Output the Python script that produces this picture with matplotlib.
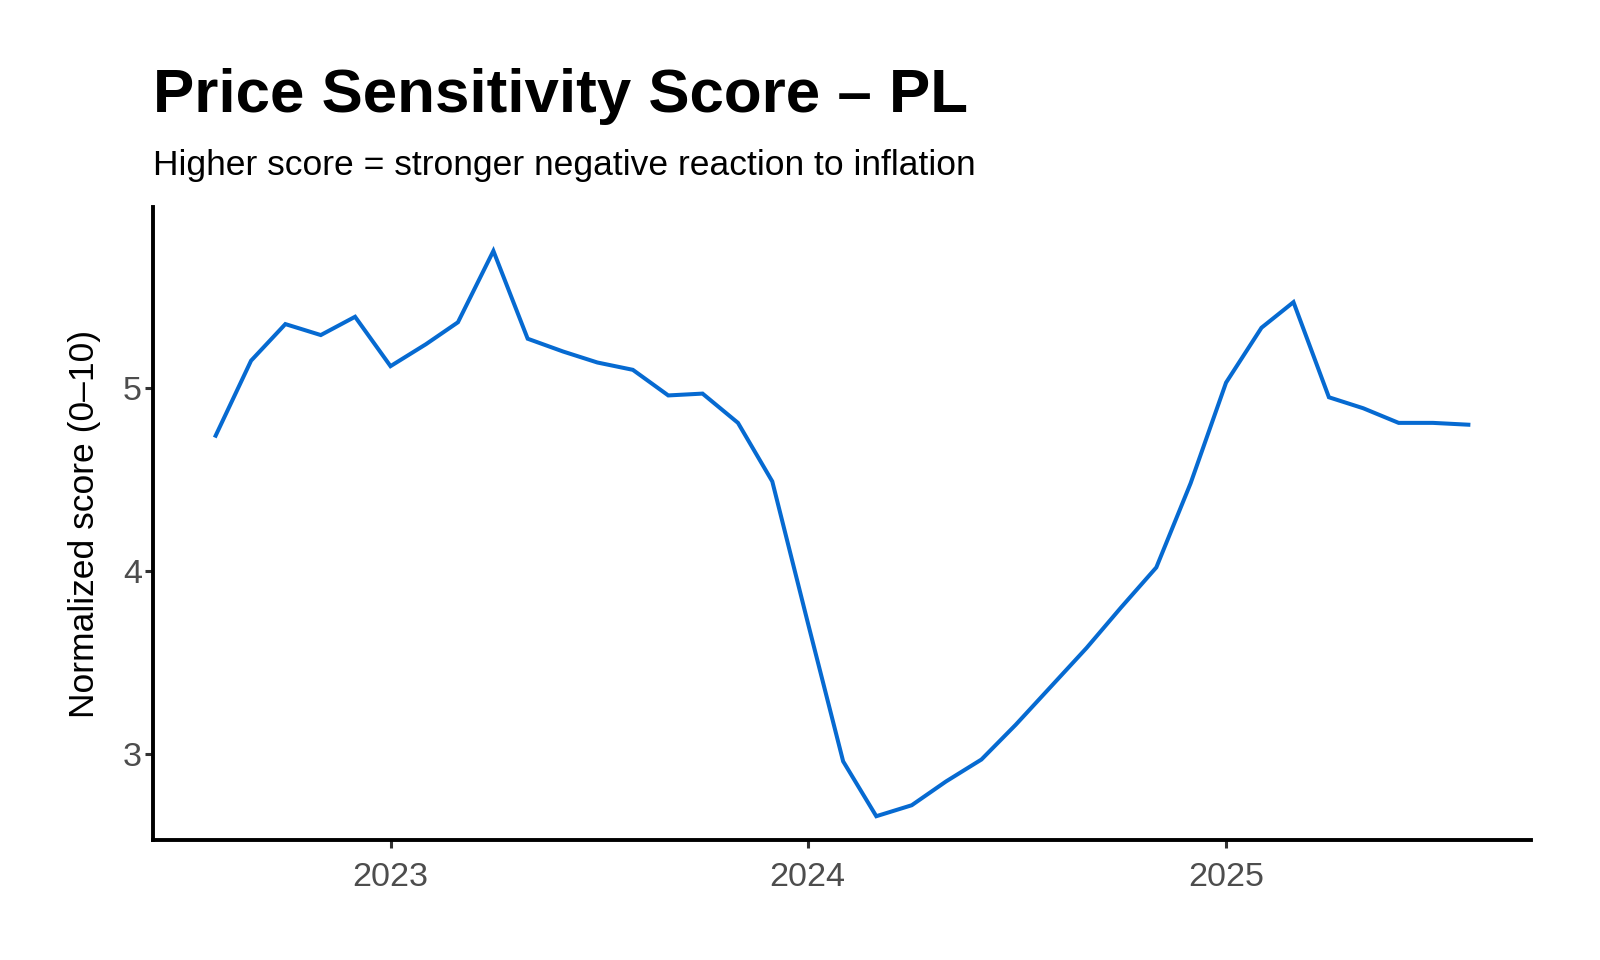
import pandas as pd
import matplotlib
matplotlib.use("Agg")
import matplotlib.pyplot as plt
import matplotlib.dates as mdates

# monthly series, Aug 2022 - Aug 2025
months = pd.date_range("2022-08-01", "2025-08-01", freq="MS")
scores = [4.74, 5.15, 5.35, 5.29, 5.39, 5.12, 5.24, 5.36, 5.75, 5.27,
          5.20, 5.14, 5.10, 4.96, 4.97, 4.81, 4.49, 3.72, 2.96, 2.66,
          2.72, 2.85, 2.97, 3.16, 3.37, 3.58, 3.80, 4.02, 4.48, 5.03,
          5.33, 5.47, 4.95, 4.89, 4.81, 4.81, 4.80]
y_ticks = [3, 4, 5]

title = "Price Sensitivity Score \u2013 PL"
subtitle = "Higher score = stronger negative reaction to inflation"
y_label = "Normalized score (0\u201310)"

plt.rcParams["font.family"] = ["Liberation Sans", "DejaVu Sans"]

fig = plt.figure(figsize=(16, 9.6), dpi=100)
ax = fig.add_axes([153 / 1600, 1 - 840 / 960, (1531 - 153) / 1600, (840 - 207) / 960])

ax.plot(months, scores, color="#066AD1", linewidth=2.9, solid_joinstyle="miter")

# ggplot-like 5% expansion on the date axis
x0 = mdates.date2num(months[0])
x1 = mdates.date2num(months[-1])
pad = (x1 - x0) * 0.05
ax.set_xlim(x0 - pad, x1 + pad)
ax.set_ylim(2.53, 5.99)

ax.xaxis.set_major_locator(mdates.YearLocator())
ax.xaxis.set_major_formatter(mdates.DateFormatter("%Y"))
ax.set_yticks(y_ticks)

for side in ["top", "right"]:
    ax.spines[side].set_visible(False)
for side in ["left", "bottom"]:
    ax.spines[side].set_linewidth(2.8)
    ax.spines[side].set_color("black")
    ax.spines[side].set_capstyle("projecting")

ax.tick_params(axis="both", length=5.5, width=2.2, color="#333333",
               labelsize=24.6, labelcolor="#4d4d4d")
ax.tick_params(axis="x", pad=10.5)
ax.tick_params(axis="y", pad=2.5)
ax.set_ylabel(y_label, fontsize=25.5, color="black", labelpad=16)

fig.text(153 / 1600, 1 - 111.7 / 960, title, fontsize=44.6,
         fontweight="bold", va="baseline", ha="left")
fig.text(153 / 1600, 1 - 175 / 960, subtitle, fontsize=25.5,
         va="baseline", ha="left")

fig.savefig("out.png", dpi=100, facecolor="white")
